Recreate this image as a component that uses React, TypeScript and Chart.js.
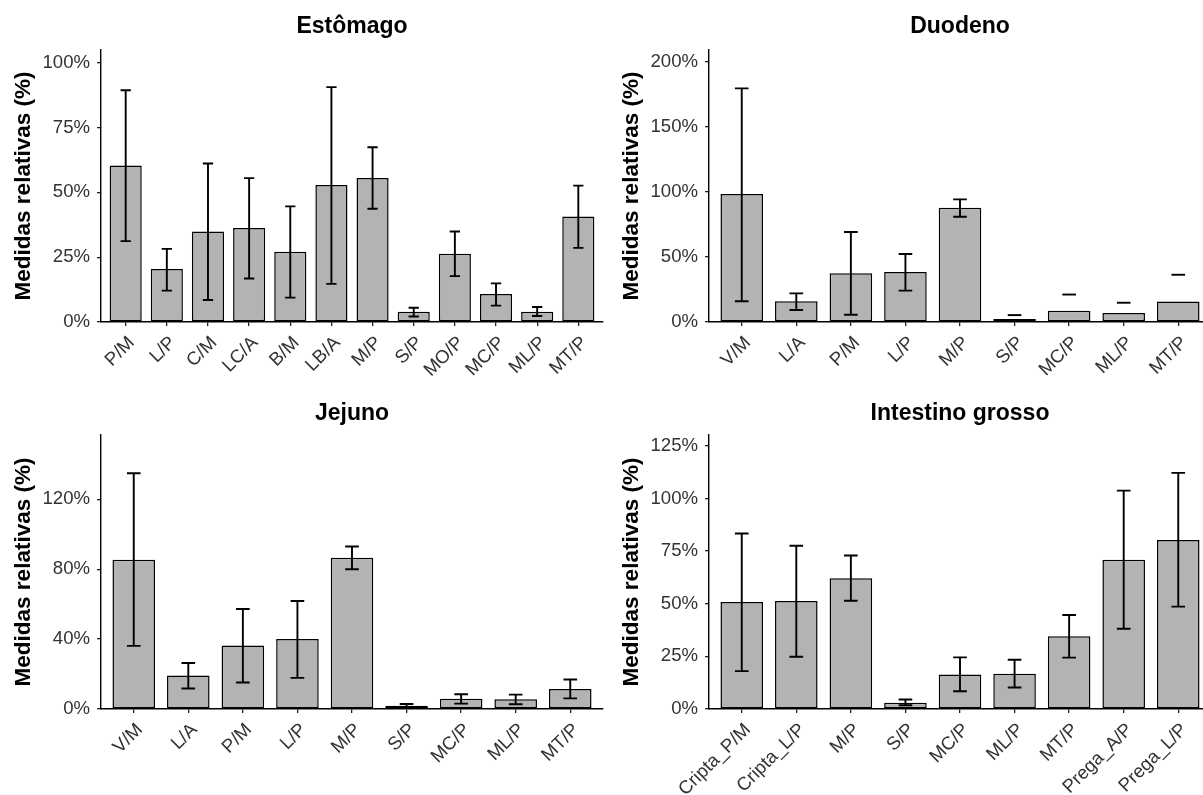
import React, { useEffect, useRef } from "react";
import { Chart, registerables } from "chart.js";

Chart.register(...registerables);

const FONT = '"Liberation Sans", Arial, Helvetica, sans-serif';
const Y_TITLE = "Medidas relativas (%)";

// ---- Estômago ----
const estomagoCategories = ["P/M", "L/P", "C/M", "LC/A", "B/M", "LB/A", "M/P", "S/P", "MO/P", "MC/P", "ML/P", "MT/P"];
const estomagoMeans = [60.4, 20.4, 34.9, 36.3, 27.1, 52.8, 55.5, 4.0, 26.3, 10.8, 4.0, 40.7];
const estomagoLower = [31.2, 12.1, 8.5, 16.8, 9.4, 14.7, 43.7, 2.1, 17.7, 6.3, 2.3, 28.6];
const estomagoUpper = [89.4, 28.2, 61.1, 55.5, 44.6, 90.6, 67.4, 5.5, 34.9, 14.9, 5.8, 52.6];
const estomagoTicks = [0, 25, 50, 75, 100];

// ---- Duodeno ----
const duodenoCategories = ["V/M", "L/A", "P/M", "L/P", "M/P", "S/P", "MC/P", "ML/P", "MT/P"];
const duodenoMeans = [98.3, 15.9, 37.4, 38.4, 87.8, 2.3, 8.7, 7.0, 15.7];
const duodenoLower: (number | null)[] = [15.9, 9.2, 5.6, 24.1, 80.9, null, null, null, null];
const duodenoUpper = [179.5, 22.0, 69.1, 52.2, 94.2, 5.3, 21.1, 14.8, 36.3];
const duodenoTicks = [0, 50, 100, 150, 200];

// ---- Jejuno ----
const jejunoCategories = ["V/M", "L/A", "P/M", "L/P", "M/P", "S/P", "MC/P", "ML/P", "MT/P"];
const jejunoMeans = [85.4, 19.2, 36.3, 40.1, 86.5, 1.9, 5.8, 5.6, 11.5];
const jejunoLower = [36.1, 11.7, 15.2, 17.8, 80.0, 1.0, 3.1, 2.7, 6.1];
const jejunoUpper = [134.9, 26.3, 57.2, 61.8, 93.0, 2.9, 8.4, 8.2, 16.9];
const jejunoTicks = [0, 40, 80, 120];

// ---- Intestino grosso ----
const intestinoCategories = ["Cripta_P/M", "Cripta_L/P", "M/P", "S/P", "MC/P", "ML/P", "MT/P", "Prega_A/P", "Prega_L/P"];
const intestinoMeans = [50.8, 51.3, 62.1, 3.0, 16.4, 16.7, 34.6, 70.9, 80.3];
const intestinoLower = [18.0, 24.8, 51.4, 1.8, 8.4, 10.2, 24.4, 38.1, 48.6];
const intestinoUpper = [83.3, 77.5, 72.9, 4.5, 24.5, 23.4, 44.6, 103.7, 112.1];
const intestinoTicks = [0, 25, 50, 75, 100, 125];

type PanelProps = {
  title: string;
  categories: string[];
  means: number[];
  lower: (number | null)[];
  upper: number[];
  yMax: number;
  yTicks: number[];
  left: number;
  top: number;
  height: number;
  xAxisHeight: number;
  titlePadTop: number;
  titlePadBottom: number;
};

const CANVAS_W = 610;

function makeErrorBars(lower: (number | null)[], upper: number[]) {
  return {
    id: "errorBars",
    afterDatasetsDraw(chart: any) {
      const { ctx } = chart;
      const x = chart.scales.x;
      const y = chart.scales.y;
      const half = (x.getPixelForValue(1) - x.getPixelForValue(0)) * 0.125;
      ctx.save();
      ctx.strokeStyle = "#000";
      ctx.lineWidth = 1.9;
      upper.forEach((hi, i) => {
        const lo = lower[i];
        const cx = x.getPixelForValue(i);
        const yHi = y.getPixelForValue(hi);
        ctx.beginPath();
        ctx.moveTo(cx - half, yHi);
        ctx.lineTo(cx + half, yHi);
        if (lo !== null && lo !== undefined) {
          const yLo = y.getPixelForValue(lo);
          ctx.moveTo(cx, yHi);
          ctx.lineTo(cx, yLo);
          ctx.moveTo(cx - half, yLo);
          ctx.lineTo(cx + half, yLo);
        }
        ctx.stroke();
      });
      ctx.restore();
    },
  };
}

function Panel(p: PanelProps) {
  const ref = useRef<HTMLCanvasElement>(null);
  useEffect(() => {
    if (!ref.current) return;
    const n = p.categories.length;
    const tickFont = { family: FONT, size: 18.6 };
    const gridOpts = {
      drawOnChartArea: false,
      drawTicks: true,
      tickLength: 4,
      color: "#222",
      lineWidth: 1.3,
      offset: false,
    };
    const borderOpts = { display: true, color: "#000", width: 1.4 };
    const chart = new Chart(ref.current, {
      type: "bar",
      data: {
        datasets: [
          {
            data: p.means.map((v, i) => ({ x: i, y: v })),
            backgroundColor: "#b3b3b3",
            borderColor: "#000",
            borderWidth: 1.5,
            borderSkipped: false,
            barPercentage: 0.78,
            categoryPercentage: 1,
          } as any,
        ],
      },
      options: {
        responsive: false,
        maintainAspectRatio: false,
        animation: false,
        layout: { padding: { left: 0, right: 7, top: 0, bottom: 0 } },
        plugins: {
          legend: { display: false },
          tooltip: { enabled: false },
          title: {
            display: true,
            text: p.title,
            fullSize: false,
            color: "#000",
            font: { family: FONT, size: 23, weight: "bold" },
            padding: { top: p.titlePadTop, bottom: p.titlePadBottom },
          },
        },
        scales: {
          x: {
            type: "linear",
            offset: false,
            min: -0.6,
            max: n - 0.4,
            afterBuildTicks: (s: any) => {
              s.ticks = p.categories.map((_, i) => ({ value: i }));
            },
            afterFit: (s: any) => {
              s.height = p.xAxisHeight;
            },
            ticks: {
              autoSkip: false,
              maxRotation: 45,
              minRotation: 45,
              padding: 6,
              labelOffset: 6,
              color: "#333",
              font: tickFont,
              callback: (v: any) => p.categories[Math.round(Number(v))],
            },
            grid: gridOpts,
            border: borderOpts,
          },
          y: {
            type: "linear",
            min: 0,
            max: p.yMax,
            afterBuildTicks: (s: any) => {
              s.ticks = p.yTicks.map((v) => ({ value: v }));
            },
            afterFit: (s: any) => {
              s.width = 101;
            },
            ticks: {
              padding: 7,
              color: "#333",
              font: tickFont,
              callback: (v: any) => `${v}%`,
            },
            grid: gridOpts,
            border: borderOpts,
            title: {
              display: true,
              text: Y_TITLE,
              color: "#000",
              font: { family: FONT, size: 22.5, weight: "bold" },
              padding: { top: 10.5, bottom: 0 },
            },
          },
        },
      } as any,
      plugins: [makeErrorBars(p.lower, p.upper)],
    });
    return () => chart.destroy();
  }, []);
  return (
    <canvas
      ref={ref}
      width={CANVAS_W}
      height={p.height}
      style={{ position: "absolute", left: p.left, top: p.top, width: CANVAS_W, height: p.height }}
    />
  );
}

export default function App() {
  return (
    <div
      style={{
        position: "fixed",
        left: 0,
        top: 0,
        width: 1203,
        height: 795,
        overflow: "hidden",
        background: "#fff",
      }}
    >
      <Panel
        title="Estômago"
        categories={estomagoCategories}
        means={estomagoMeans}
        lower={estomagoLower}
        upper={estomagoUpper}
        yMax={104.9}
        yTicks={estomagoTicks}
        left={0}
        top={0}
        height={400}
        xAxisHeight={78}
        titlePadTop={12.5}
        titlePadBottom={9.9}
      />
      <Panel
        title="Duodeno"
        categories={duodenoCategories}
        means={duodenoMeans}
        lower={duodenoLower}
        upper={duodenoUpper}
        yMax={209}
        yTicks={duodenoTicks}
        left={608}
        top={0}
        height={400}
        xAxisHeight={78}
        titlePadTop={12.5}
        titlePadBottom={9.9}
      />
      <Panel
        title="Jejuno"
        categories={jejunoCategories}
        means={jejunoMeans}
        lower={jejunoLower}
        upper={jejunoUpper}
        yMax={156.8}
        yTicks={jejunoTicks}
        left={0}
        top={388}
        height={407}
        xAxisHeight={86}
        titlePadTop={11.5}
        titlePadBottom={7.9}
      />
      <Panel
        title="Intestino grosso"
        categories={intestinoCategories}
        means={intestinoMeans}
        lower={intestinoLower}
        upper={intestinoUpper}
        yMax={130.1}
        yTicks={intestinoTicks}
        left={608}
        top={388}
        height={407}
        xAxisHeight={86}
        titlePadTop={11.5}
        titlePadBottom={7.9}
      />
    </div>
  );
}
